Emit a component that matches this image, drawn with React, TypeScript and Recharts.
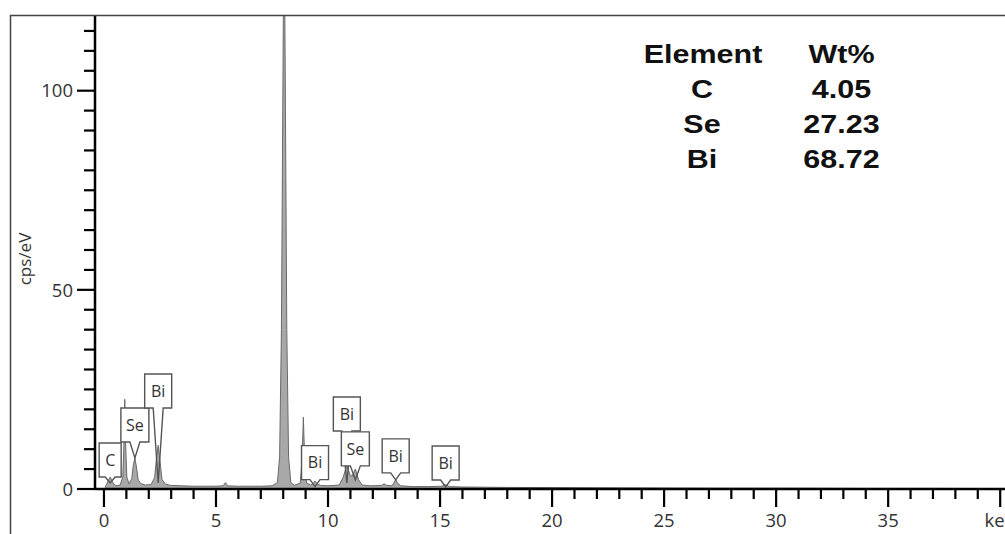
import { ComposedChart, Area, XAxis, YAxis, ReferenceDot } from "recharts";

// EDS spectrum (keV vs cps/eV)
const energyKeV = [
  0.05, 0.12, 0.2, 0.28, 0.36, 0.45, 0.58, 0.72, 0.84, 0.89, 0.93, 0.97, 1.02, 1.12, 1.24, 1.31,
  1.38, 1.45, 1.53, 1.66, 1.85, 2.1, 2.26, 2.34, 2.42, 2.5, 2.59, 2.75, 3.0, 3.5, 4.0, 4.5, 5.0,
  5.32, 5.42, 5.52, 6.0, 6.5, 7.0, 7.5, 7.74, 7.84, 7.92, 7.98, 8.04, 8.1, 8.16, 8.24, 8.34, 8.5,
  8.76, 8.84, 8.9, 8.96, 9.04, 9.22, 9.34, 9.42, 9.5, 9.66, 10.0, 10.5, 10.68, 10.84, 10.98, 11.08,
  11.22, 11.36, 11.52, 11.9, 12.38, 12.5, 12.62, 12.85, 12.94, 13.02, 13.1, 13.25, 13.8, 14.5,
  15.08, 15.25, 15.42, 16.0, 17.0, 18.0, 20.0, 22.0, 25.0, 28.0, 31.0, 34.0, 37.0, 40.0, 42.0,
];
const cpsPerEV = [
  0.4, 1.2, 2.2, 3.0, 2.0, 1.1, 0.8, 1.0, 3.0, 11, 22.5, 11, 3.0, 1.3, 2.6, 6.0,
  7.8, 5.5, 2.2, 1.3, 1.0, 1.1, 2.8, 7.5, 11, 7.0, 2.4, 1.2, 0.9, 0.8, 0.7, 0.7, 0.7,
  0.8, 1.6, 0.8, 0.7, 0.7, 0.7, 0.8, 1.6, 8, 40, 95, 150, 95, 40, 8, 1.6, 0.9,
  1.5, 7, 18, 7, 1.5, 1.0, 1.4, 2.0, 1.4, 0.9, 0.8, 1.0, 3.0, 6.0, 3.6, 3.2,
  5.0, 2.4, 1.0, 0.8, 0.9, 1.3, 0.9, 0.8, 1.5, 2.4, 1.5, 0.8, 0.6, 0.6,
  0.7, 1.1, 0.6, 0.5, 0.45, 0.4, 0.35, 0.3, 0.25, 0.2, 0.2, 0.15, 0.15, 0.1, 0.1,
];

// axis ticks
const xTicks = [
  0, 1, 2, 3, 4, 5, 6, 7, 8, 9, 10, 11, 12, 13, 14, 15, 16, 17, 18, 19, 20, 21, 22, 23, 24, 25,
  26, 27, 28, 29, 30, 31, 32, 33, 34, 35, 36, 37, 38, 39, 40, 41, 42,
];
const xLabelValues = [0, 5, 10, 15, 20, 25, 30, 35, 40];
const xLabelTexts = ["0", "5", "10", "15", "20", "25", "30", "35", "keV"];
const yTicks = [0, 5, 10, 15, 20, 25, 30, 35, 40, 45, 50, 55, 60, 65, 70, 75, 80, 85, 90, 95, 100, 105, 110, 115];
const yLabelValues = [0, 50, 100];

// peak tags
const tagNames = ["C", "Se", "Bi", "Bi", "Bi", "Se", "Bi", "Bi"];
const tagEnergies = [0.277, 1.38, 2.42, 9.42, 10.84, 11.22, 13.02, 15.25];
const tagTips = [1.5, 7.8, 1.5, 0.6, 1.5, 2.3, 2.3, 0.5];
const tagTailPx = [6, 16, 75, 7, 52, 14, 7, 7];

// quantification table
const tableElements = ["C", "Se", "Bi"];
const tableWt = ["4.05", "27.23", "68.72"];

const data = energyKeV.map((e, i) => ({ e, cps: cpsPerEV[i] }));

const tickFont = "'Open Sans', sans-serif";

const XTick = (props: any) => {
  const { x, y, payload } = props;
  const idx = xLabelValues.indexOf(payload.value);
  const major = idx >= 0;
  return (
    <g>
      <line x1={x} x2={x} y1={y} y2={y + (major ? 18 : 10)} stroke="#000" strokeWidth={2.2} />
      {major && (
        <text x={x} y={y + 38} textAnchor="middle" fontSize={18.5} fontFamily={tickFont} fill="#333">
          {xLabelTexts[idx]}
        </text>
      )}
    </g>
  );
};

const YTick = (props: any) => {
  const { x, y, payload } = props;
  const major = yLabelValues.includes(payload.value);
  return (
    <g>
      <line x1={x - (major ? 18 : 11)} x2={x} y1={y} y2={y} stroke="#000" strokeWidth={2.2} />
      {major && (
        <text x={x - 22} y={y} dy="0.36em" textAnchor="end" fontSize={18.5} fontFamily={tickFont} fill="#333">
          {payload.value}
        </text>
      )}
    </g>
  );
};

const makeTag = (name: string, tail: number) => (props: any) => {
  const { cx, cy } = props;
  const w = name === "C" ? 22 : name === "Se" ? 28 : 27;
  const h = 34;
  const hw = 5;
  const bottom = cy - tail;
  const top = bottom - h;
  const l = cx - w / 2;
  const r = cx + w / 2;
  return (
    <g>
      <rect x={l} y={top} width={w} height={h} fill="#fff" />
      <path
        d={`M${l},${top} L${r},${top} L${r},${bottom} L${cx + hw},${bottom} L${cx},${cy} L${cx - hw},${bottom} L${l},${bottom} Z`}
        fill="none"
        stroke="#555"
        strokeWidth={1.4}
      />
      <text x={cx} y={top + h / 2} dy="0.36em" textAnchor="middle" fontSize={16} fontFamily={tickFont} fill="#333">
        {name}
      </text>
    </g>
  );
};

export default function App() {
  return (
    <div style={{ position: "fixed", left: 0, top: 0, width: 1005, height: 534, overflow: "hidden", background: "#fff" }}>
      <div style={{ position: "absolute", left: 0, top: 0 }}>
        <ComposedChart width={1060} height={534} data={data} margin={{ top: 15, right: 15, left: 0, bottom: 0 }}>
          <XAxis
            dataKey="e"
            type="number"
            domain={[-0.4, 42]}
            ticks={xTicks}
            interval={0}
            height={45}
            tickSize={0}
            tickMargin={0}
            tickLine={false}
            axisLine={{ stroke: "#000", strokeWidth: 2.5 }}
            tick={<XTick />}
            allowDataOverflow
          />
          <YAxis
            type="number"
            domain={[0, 119]}
            ticks={yTicks}
            interval={0}
            width={95}
            tickSize={0}
            tickMargin={0}
            tickLine={false}
            axisLine={{ stroke: "#000", strokeWidth: 2.5 }}
            tick={<YTick />}
            allowDataOverflow
          />
          <Area
            type="linear"
            dataKey="cps"
            stroke="#6a6a6a"
            strokeWidth={1}
            fill="#a8a8a8"
            fillOpacity={1}
            isAnimationActive={false}
            dot={false}
            activeDot={false}
          />
          {tagNames.map((n, i) => (
            <ReferenceDot
              key={i}
              x={tagEnergies[i]}
              y={tagTips[i]}
              r={1}
              shape={makeTag(n, tagTailPx[i])}
            />
          ))}
        </ComposedChart>
      </div>
      <svg width={1005} height={534} style={{ position: "absolute", left: 0, top: 0, pointerEvents: "none" }}>
        <line x1={10.5} x2={10.5} y1={15} y2={534} stroke="#444" strokeWidth={1.5} />
        <line x1={10} x2={1005} y1={15.5} y2={15.5} stroke="#444" strokeWidth={1.5} />
        <text
          transform="translate(31 259) rotate(-90)"
          textAnchor="middle"
          fontSize={17}
          fontFamily={tickFont}
          fill="#333"
        >
          cps/eV
        </text>
        <g fontFamily="'Liberation Sans', Arial, sans-serif" fontWeight="bold" fontSize={25} fill="#111">
          <g transform="translate(703 62.5) scale(1.22 1)">
            <text textAnchor="middle">Element</text>
          </g>
          <g transform="translate(841.5 62.5) scale(1.22 1)">
            <text textAnchor="middle">Wt%</text>
          </g>
          {tableElements.map((el, i) => (
            <g key={el}>
              <g transform={`translate(702 ${98 + i * 35}) scale(1.22 1)`}>
                <text textAnchor="middle">{el}</text>
              </g>
              <g transform={`translate(841.5 ${98 + i * 35}) scale(1.22 1)`}>
                <text textAnchor="middle">{tableWt[i]}</text>
              </g>
            </g>
          ))}
        </g>
      </svg>
    </div>
  );
}
